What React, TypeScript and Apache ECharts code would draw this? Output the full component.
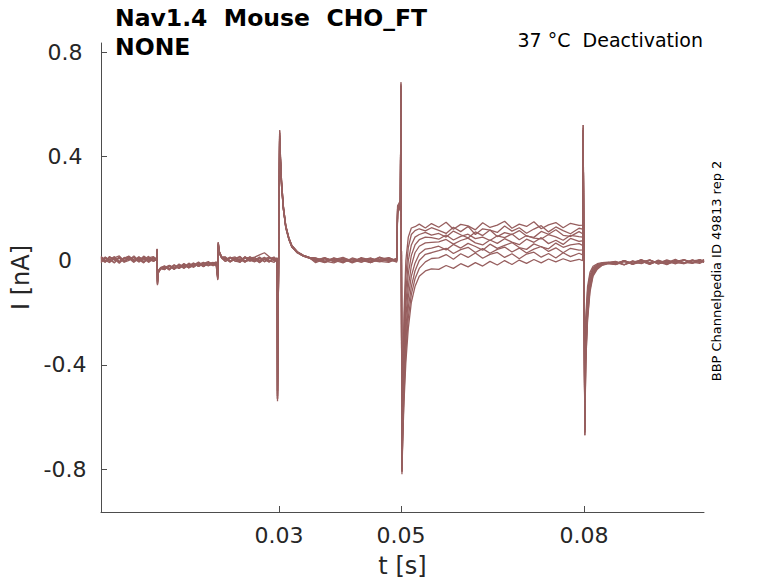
import React, { useEffect, useRef } from "react";
import * as echarts from "echarts";

// time segments (s)
const tBase1 = [0.0008, 0.0015, 0.0022, 0.003, 0.0038, 0.0046, 0.0054, 0.0062, 0.007, 0.0078, 0.0086, 0.0094];
const tEv1 = [0.0099, 0.01, 0.01006, 0.0102, 0.0106];
const tBase2 = [0.0112, 0.012, 0.0128, 0.0136, 0.0144, 0.0152, 0.016, 0.0168, 0.0176, 0.0184, 0.0192, 0.0197];
const tEv2 = [0.01995, 0.02003, 0.0202, 0.0206];
const tBase3 = [0.0212, 0.022, 0.0228, 0.0236, 0.0244, 0.0252, 0.026, 0.0268, 0.0276, 0.0284, 0.0292, 0.0297];
const tEv3 = [0.02975, 0.0301, 0.0302, 0.0304, 0.0307, 0.0311, 0.0316, 0.0321, 0.033, 0.034, 0.035];
const tBase4 = [0.036, 0.0375, 0.039, 0.0405, 0.042, 0.0435, 0.045, 0.0465, 0.048, 0.0493];
const tEv4 = [0.04945, 0.0499, 0.05, 0.05016, 0.0503, 0.0505, 0.0508, 0.0512, 0.0517, 0.0523, 0.053, 0.054, 0.055];
const tPlat = [0.0562, 0.0574, 0.0586, 0.0598, 0.061, 0.0622, 0.0634, 0.0646, 0.0658, 0.067, 0.0682, 0.0694, 0.0706, 0.0718, 0.073, 0.0742, 0.0754, 0.0766, 0.0778, 0.0792];
const tEv5 = [0.0798, 0.07988, 0.08016, 0.0803, 0.0806, 0.081, 0.0815, 0.0822, 0.083, 0.084];
const tBase5 = [0.0852, 0.0866, 0.088, 0.0894, 0.0908, 0.0922, 0.0936, 0.095, 0.0964, 0.0978, 0.099, 0.0997];
const timeSegments = [tBase1, tEv1, tBase2, tEv2, tBase3, tEv3, tBase4, tEv4, tPlat, tEv5, tBase5];

// current traces (nA), one sub-array per time segment
const trace1 = [
  [0.012, -0.004, 0.016, 0.001, 0.009, -0.006, 0.014, 0.003, -0.002, 0.017, 0.005, -0.003],
  [0.004, 0.045, -0.09, -0.045, -0.03],
  [-0.034, -0.018, -0.029, -0.013, -0.026, -0.02, -0.009, -0.023, -0.012, -0.004, -0.018, -0.008],
  [-0.07, 0.068, 0.034, 0.014],
  [0.013, -0.005, 0.008, 0.016, -0.002, 0.01, 0.001, 0.014, -0.004, 0.009, 0.002, 0.011],
  [-0.53, 0.49, 0.41, 0.31, 0.21, 0.135, 0.088, 0.058, 0.034, 0.02, 0.012],
  [0.009, -0.006, 0.004, 0.012, -0.003, 0.007, -0.008, 0.005, 0.011, -0.002],
  [0.2, 0.22, 0.68, -0.81, -0.45, -0.2, 0.0, 0.09, 0.125, 0.13, 0.14, 0.125, 0.142],
  [0.128, 0.147, 0.12, 0.139, 0.133, 0.118, 0.145, 0.127, 0.136, 0.151, 0.124, 0.14, 0.131, 0.149, 0.122, 0.137, 0.146, 0.126, 0.143, 0.135],
  [0.136, 0.52, -0.66, -0.22, -0.1, -0.045, -0.022, -0.012, -0.008, -0.006],
  [-0.015, 0.0, -0.011, 0.004, -0.013, -0.002, -0.009, 0.005, -0.012, 0.002, -0.006, 0.003],
];
const trace2 = [
  [-0.005, 0.011, 0.004, -0.009, 0.015, 0.0, 0.008, -0.007, 0.013, 0.006, -0.004, 0.01],
  [0.003, 0.04, -0.085, -0.042, -0.028],
  [-0.022, -0.035, -0.016, -0.027, -0.011, -0.024, -0.017, -0.006, -0.021, -0.013, -0.019, -0.005],
  [-0.065, 0.064, 0.03, 0.01],
  [-0.004, 0.012, 0.005, -0.007, 0.015, 0.002, -0.005, 0.01, 0.004, -0.006, 0.013, 0.0],
  [-0.52, 0.48, 0.4, 0.3, 0.2, 0.13, 0.085, 0.055, 0.032, 0.018, 0.01],
  [-0.004, 0.008, 0.002, -0.009, 0.01, 0.0, -0.005, 0.012, -0.001, 0.006],
  [0.19, 0.215, 0.66, -0.8, -0.5, -0.26, -0.06, 0.05, 0.1, 0.115, 0.122, 0.114, 0.126],
  [0.116, 0.104, 0.128, 0.111, 0.131, 0.1, 0.122, 0.117, 0.108, 0.133, 0.113, 0.126, 0.105, 0.121, 0.134, 0.11, 0.129, 0.115, 0.103, 0.124],
  [0.121, 0.5, -0.65, -0.25, -0.12, -0.055, -0.028, -0.015, -0.01, -0.007],
  [-0.003, -0.016, -0.006, 0.002, -0.012, -0.001, -0.014, -0.004, 0.004, -0.009, 0.001, -0.007],
];
const trace3 = [
  [0.015, 0.002, -0.008, 0.01, 0.018, -0.003, 0.006, 0.012, -0.006, 0.009, 0.001, 0.014],
  [0.006, 0.038, -0.08, -0.04, -0.032],
  [-0.03, -0.021, -0.033, -0.017, -0.025, -0.01, -0.022, -0.015, -0.007, -0.019, -0.011, -0.014],
  [-0.06, 0.07, 0.036, 0.012],
  [0.008, -0.002, 0.011, 0.003, -0.006, 0.009, 0.013, 0.022, 0.03, 0.015, 0.001, 0.007],
  [-0.5, 0.47, 0.4, 0.29, 0.2, 0.128, 0.083, 0.053, 0.03, 0.017, 0.009],
  [0.006, -0.007, 0.01, 0.001, -0.005, 0.008, -0.002, 0.013, 0.003, -0.004],
  [0.18, 0.21, 0.64, -0.79, -0.55, -0.32, -0.12, 0.0, 0.06, 0.09, 0.1, 0.108, 0.098],
  [0.104, 0.09, 0.113, 0.099, 0.087, 0.11, 0.096, 0.117, 0.092, 0.107, 0.1, 0.115, 0.094, 0.089, 0.112, 0.101, 0.118, 0.097, 0.093, 0.111],
  [0.103, 0.48, -0.64, -0.28, -0.14, -0.065, -0.033, -0.018, -0.011, -0.008],
  [-0.01, -0.001, -0.014, 0.003, -0.008, -0.005, -0.016, 0.001, -0.007, -0.011, 0.004, -0.002],
];
const trace4 = [
  [-0.008, 0.009, 0.001, 0.013, -0.004, 0.007, 0.016, -0.002, 0.004, -0.009, 0.011, 0.002],
  [0.002, 0.042, -0.092, -0.048, -0.031],
  [-0.026, -0.019, -0.031, -0.024, -0.014, -0.028, -0.016, -0.02, -0.009, -0.018, -0.013, -0.007],
  [-0.072, 0.06, 0.028, 0.01],
  [0.006, -0.006, 0.01, 0.001, 0.014, -0.003, 0.007, -0.008, 0.005, 0.012, -0.001, 0.008],
  [-0.53, 0.49, 0.41, 0.3, 0.21, 0.132, 0.086, 0.056, 0.033, 0.019, 0.011],
  [-0.008, 0.006, -0.002, 0.009, -0.006, 0.011, 0.002, -0.005, 0.007, -0.001],
  [0.2, 0.225, 0.67, -0.8, -0.58, -0.37, -0.17, -0.05, 0.02, 0.06, 0.08, 0.09, 0.088],
  [0.082, 0.098, 0.079, 0.093, 0.101, 0.084, 0.09, 0.077, 0.095, 0.088, 0.102, 0.08, 0.096, 0.086, 0.083, 0.1, 0.091, 0.078, 0.097, 0.092],
  [0.09, 0.51, -0.67, -0.3, -0.15, -0.072, -0.036, -0.02, -0.012, -0.008],
  [-0.007, -0.017, -0.002, -0.011, 0.001, -0.013, -0.005, -0.009, 0.003, -0.01, -0.004, 0.002],
];
const trace5 = [
  [0.003, -0.007, 0.012, 0.006, -0.01, 0.009, 0.017, -0.001, 0.007, -0.005, 0.01, 0.015],
  [0.005, 0.035, -0.07, -0.038, -0.027],
  [-0.033, -0.024, -0.02, -0.03, -0.018, -0.025, -0.012, -0.02, -0.016, -0.008, -0.016, -0.01],
  [-0.055, 0.058, 0.03, 0.011],
  [0.01, -0.003, 0.004, 0.014, -0.005, 0.002, 0.011, -0.002, 0.013, 0.0, -0.007, 0.009],
  [-0.51, 0.47, 0.39, 0.29, 0.2, 0.127, 0.082, 0.052, 0.03, 0.017, 0.009],
  [0.003, 0.01, -0.004, 0.006, -0.009, 0.004, 0.009, -0.003, -0.007, 0.008],
  [0.185, 0.205, 0.65, -0.78, -0.6, -0.41, -0.22, -0.1, -0.02, 0.03, 0.055, 0.068, 0.07],
  [0.072, 0.081, 0.063, 0.077, 0.086, 0.068, 0.06, 0.079, 0.066, 0.084, 0.071, 0.061, 0.082, 0.07, 0.088, 0.065, 0.078, 0.062, 0.085, 0.074],
  [0.076, 0.49, -0.62, -0.33, -0.17, -0.08, -0.04, -0.022, -0.013, -0.009],
  [-0.013, 0.0, -0.015, -0.004, 0.002, -0.011, 0.003, -0.008, -0.012, 0.001, -0.005, 0.004],
];
const trace6 = [
  [0.001, 0.014, -0.005, 0.008, -0.004, 0.012, 0.002, 0.018, -0.001, 0.01, -0.007, 0.007],
  [0.003, 0.044, -0.088, -0.044, -0.029],
  [-0.02, -0.032, -0.017, -0.029, -0.014, -0.026, -0.021, -0.011, -0.023, -0.009, -0.015, -0.019],
  [-0.068, 0.066, 0.033, 0.013],
  [0.004, 0.013, -0.002, -0.006, 0.009, 0.012, -0.004, 0.006, 0.01, -0.003, 0.007, 0.0],
  [-0.53, 0.5, 0.42, 0.31, 0.21, 0.134, 0.087, 0.057, 0.033, 0.019, 0.011],
  [0.002, -0.008, 0.008, -0.004, 0.006, -0.006, 0.005, -0.002, 0.01, 0.0],
  [0.21, 0.23, 0.685, -0.82, -0.62, -0.45, -0.27, -0.14, -0.06, -0.01, 0.025, 0.044, 0.048],
  [0.055, 0.041, 0.062, 0.048, 0.066, 0.054, 0.04, 0.063, 0.047, 0.058, 0.069, 0.05, 0.043, 0.064, 0.053, 0.045, 0.067, 0.051, 0.06, 0.065],
  [0.058, 0.52, -0.67, -0.35, -0.19, -0.09, -0.045, -0.025, -0.014, -0.009],
  [-0.004, -0.016, -0.001, -0.012, 0.002, -0.01, 0.0, -0.013, 0.003, -0.006, -0.011, -0.001],
];
const trace7 = [
  [0.016, -0.002, 0.007, -0.008, 0.011, -0.003, 0.013, 0.0, 0.015, -0.006, 0.008, 0.002],
  [0.001, 0.04, -0.082, -0.041, -0.03],
  [-0.035, -0.019, -0.03, -0.016, -0.027, -0.014, -0.024, -0.01, -0.022, -0.008, -0.02, -0.012],
  [-0.062, 0.062, 0.031, 0.012],
  [0.002, 0.012, -0.003, 0.008, -0.005, 0.015, 0.003, -0.006, 0.006, 0.013, -0.001, -0.004],
  [-0.52, 0.48, 0.4, 0.3, 0.2, 0.13, 0.084, 0.054, 0.031, 0.018, 0.01],
  [0.008, -0.002, -0.009, 0.005, -0.004, 0.009, -0.007, 0.004, -0.003, 0.008],
  [0.19, 0.22, 0.67, -0.81, -0.64, -0.48, -0.31, -0.18, -0.1, -0.04, 0.0, 0.024, 0.03],
  [0.038, 0.047, 0.027, 0.042, 0.051, 0.031, 0.046, 0.028, 0.043, 0.052, 0.033, 0.048, 0.029, 0.044, 0.054, 0.035, 0.049, 0.03, 0.047, 0.04],
  [0.041, 0.5, -0.65, -0.37, -0.2, -0.1, -0.05, -0.027, -0.015, -0.01],
  [-0.015, -0.003, -0.013, -0.001, -0.014, 0.002, -0.01, -0.002, -0.009, 0.003, -0.007, 0.0],
];
const trace8 = [
  [0.0, 0.012, 0.003, 0.015, -0.006, 0.006, 0.014, -0.004, 0.009, 0.002, 0.016, -0.003],
  [0.004, 0.037, -0.078, -0.04, -0.026],
  [-0.023, -0.036, -0.019, -0.03, -0.015, -0.028, -0.012, -0.023, -0.011, -0.021, -0.009, -0.006],
  [-0.058, 0.055, 0.027, 0.009],
  [-0.003, 0.009, 0.014, -0.002, 0.01, 0.001, 0.012, -0.001, 0.006, -0.005, 0.011, 0.004],
  [-0.5, 0.47, 0.39, 0.29, 0.2, 0.126, 0.081, 0.052, 0.03, 0.017, 0.009],
  [0.001, 0.011, -0.003, 0.007, 0.002, -0.006, 0.009, -0.001, 0.005, -0.006],
  [0.2, 0.215, 0.66, -0.8, -0.66, -0.51, -0.35, -0.22, -0.13, -0.07, -0.03, -0.005, 0.008],
  [0.01, 0.023, 0.005, 0.026, 0.012, 0.029, 0.009, 0.024, 0.031, 0.012, 0.026, 0.007, 0.025, 0.032, 0.013, 0.027, 0.01, 0.03, 0.015, 0.028],
  [0.022, 0.49, -0.64, -0.39, -0.22, -0.11, -0.055, -0.03, -0.017, -0.011],
  [-0.016, -0.004, -0.014, -0.002, -0.015, 0.0, -0.012, 0.002, -0.009, -0.001, 0.003, -0.007],
];
const trace9 = [
  [0.009, -0.005, 0.013, 0.003, 0.011, -0.006, 0.001, 0.012, -0.002, 0.014, 0.0, 0.008],
  [0.002, 0.043, -0.095, -0.046, -0.03],
  [-0.029, -0.02, -0.034, -0.017, -0.03, -0.015, -0.026, -0.01, -0.024, -0.011, -0.007, -0.02],
  [-0.075, 0.07, 0.035, 0.013],
  [0.014, -0.001, 0.008, -0.004, 0.012, 0.005, -0.003, 0.01, -0.005, 0.007, 0.013, -0.002],
  [-0.54, 0.5, 0.42, 0.31, 0.21, 0.135, 0.089, 0.058, 0.034, 0.02, 0.012],
  [0.01, -0.002, 0.009, -0.007, 0.006, 0.001, -0.008, 0.011, -0.003, 0.004],
  [0.21, 0.22, 0.675, -0.81, -0.68, -0.54, -0.39, -0.26, -0.16, -0.1, -0.06, -0.04, -0.032],
  [-0.034, -0.019, -0.03, -0.012, -0.024, -0.008, -0.021, -0.003, -0.017, 0.0, -0.015, 0.002, -0.011, 0.004, -0.009, 0.006, -0.005, 0.007, -0.003, 0.005],
  [0.0, 0.5, -0.66, -0.4, -0.23, -0.12, -0.06, -0.033, -0.018, -0.012],
  [-0.014, 0.0, -0.012, -0.008, 0.003, -0.013, -0.002, -0.01, 0.002, -0.008, 0.004, -0.005],
];
const traces = [trace1, trace2, trace3, trace4, trace5, trace6, trace7, trace8, trace9];

const xTicks = [0.03, 0.05, 0.08];
const yTicks = [-0.8, -0.4, 0, 0.4, 0.8];

const titleLine1 = "Nav1.4  Mouse  CHO_FT";
const titleLine2 = "NONE";
const condText = "37 °C  Deactivation";
const sideText = "BBP Channelpedia ID 49813 rep 2";

const TRACE_COLOR = "#975f5f";
const FONT = "DejaVu Sans";

function buildSeriesData(trace: number[][]) {
  const out: [number, number][] = [];
  timeSegments.forEach((seg, k) => {
    const vals = trace[k] || [];
    seg.forEach((t, i) => {
      if (vals[i] !== undefined) out.push([t, vals[i]]);
    });
  });
  return out;
}

export default function App() {
  const ref = useRef<HTMLDivElement>(null);
  useEffect(() => {
    document.body.style.margin = "0";
    if (!ref.current) return;
    const chart = echarts.init(ref.current, undefined, { renderer: "svg" });
    const axisColor = "#4d4d4d";
    const labelColor = "#262626";
    chart.setOption({
      animation: false,
      textStyle: { fontFamily: FONT },
      grid: { left: 101, top: 43, right: 74, bottom: 71, containLabel: false },
      xAxis: {
        type: "value",
        min: 0.0008,
        max: 0.0997,
        name: "t [s]",
        nameLocation: "middle",
        nameGap: 42,
        nameTextStyle: { fontSize: 24, color: labelColor, fontFamily: FONT },
        axisLine: { show: true, onZero: false, lineStyle: { color: axisColor, width: 1 } },
        axisTick: { show: true, inside: true, length: 6, customValues: xTicks, lineStyle: { color: axisColor } },
        axisLabel: {
          customValues: xTicks,
          fontSize: 22,
          color: labelColor,
          fontFamily: FONT,
          margin: 12,
          formatter: (v: number) => v.toFixed(2),
        },
        splitLine: { show: false },
      },
      yAxis: {
        type: "value",
        min: -0.965,
        max: 0.835,
        name: "I [nA]",
        nameLocation: "middle",
        nameGap: 61,
        nameTextStyle: { fontSize: 24, color: labelColor, fontFamily: FONT },
        axisLine: { show: true, onZero: false, lineStyle: { color: axisColor, width: 1 } },
        axisTick: { show: true, inside: true, length: 6, customValues: yTicks, lineStyle: { color: axisColor } },
        axisLabel: {
          customValues: yTicks,
          fontSize: 22,
          color: labelColor,
          fontFamily: FONT,
          margin: 36,
          align: "center",
          formatter: (v: number) => (Math.abs(v) < 1e-9 ? "0" : v.toFixed(1)),
        },
        splitLine: { show: false },
      },
      series: traces.map((tr, i) => ({
        type: "line",
        name: "trace" + (i + 1),
        data: buildSeriesData(tr),
        showSymbol: false,
        symbol: "none",
        lineStyle: { color: TRACE_COLOR, width: 1.3 },
        itemStyle: { color: TRACE_COLOR },
        silent: true,
      })),
      graphic: [
        {
          type: "text",
          x: 115,
          y: 18,
          style: { text: titleLine1, font: `bold 23.5px "${FONT}"`, fill: "#000", textAlign: "left", textVerticalAlign: "middle" },
        },
        {
          type: "text",
          x: 115,
          y: 47,
          style: { text: titleLine2, font: `bold 23.5px "${FONT}"`, fill: "#000", textAlign: "left", textVerticalAlign: "middle" },
        },
        {
          type: "text",
          x: 703,
          y: 40,
          style: { text: condText, font: `19px "${FONT}"`, fill: "#000", textAlign: "right", textVerticalAlign: "middle" },
        },
        {
          type: "text",
          x: 716,
          y: 271,
          rotation: Math.PI / 2,
          style: { text: sideText, font: `13px "${FONT}"`, fill: "#000", textAlign: "center", textVerticalAlign: "middle" },
        },
      ],
    });
    return () => chart.dispose();
  }, []);
  return <div ref={ref} style={{ width: 778, height: 583 }} />;
}
